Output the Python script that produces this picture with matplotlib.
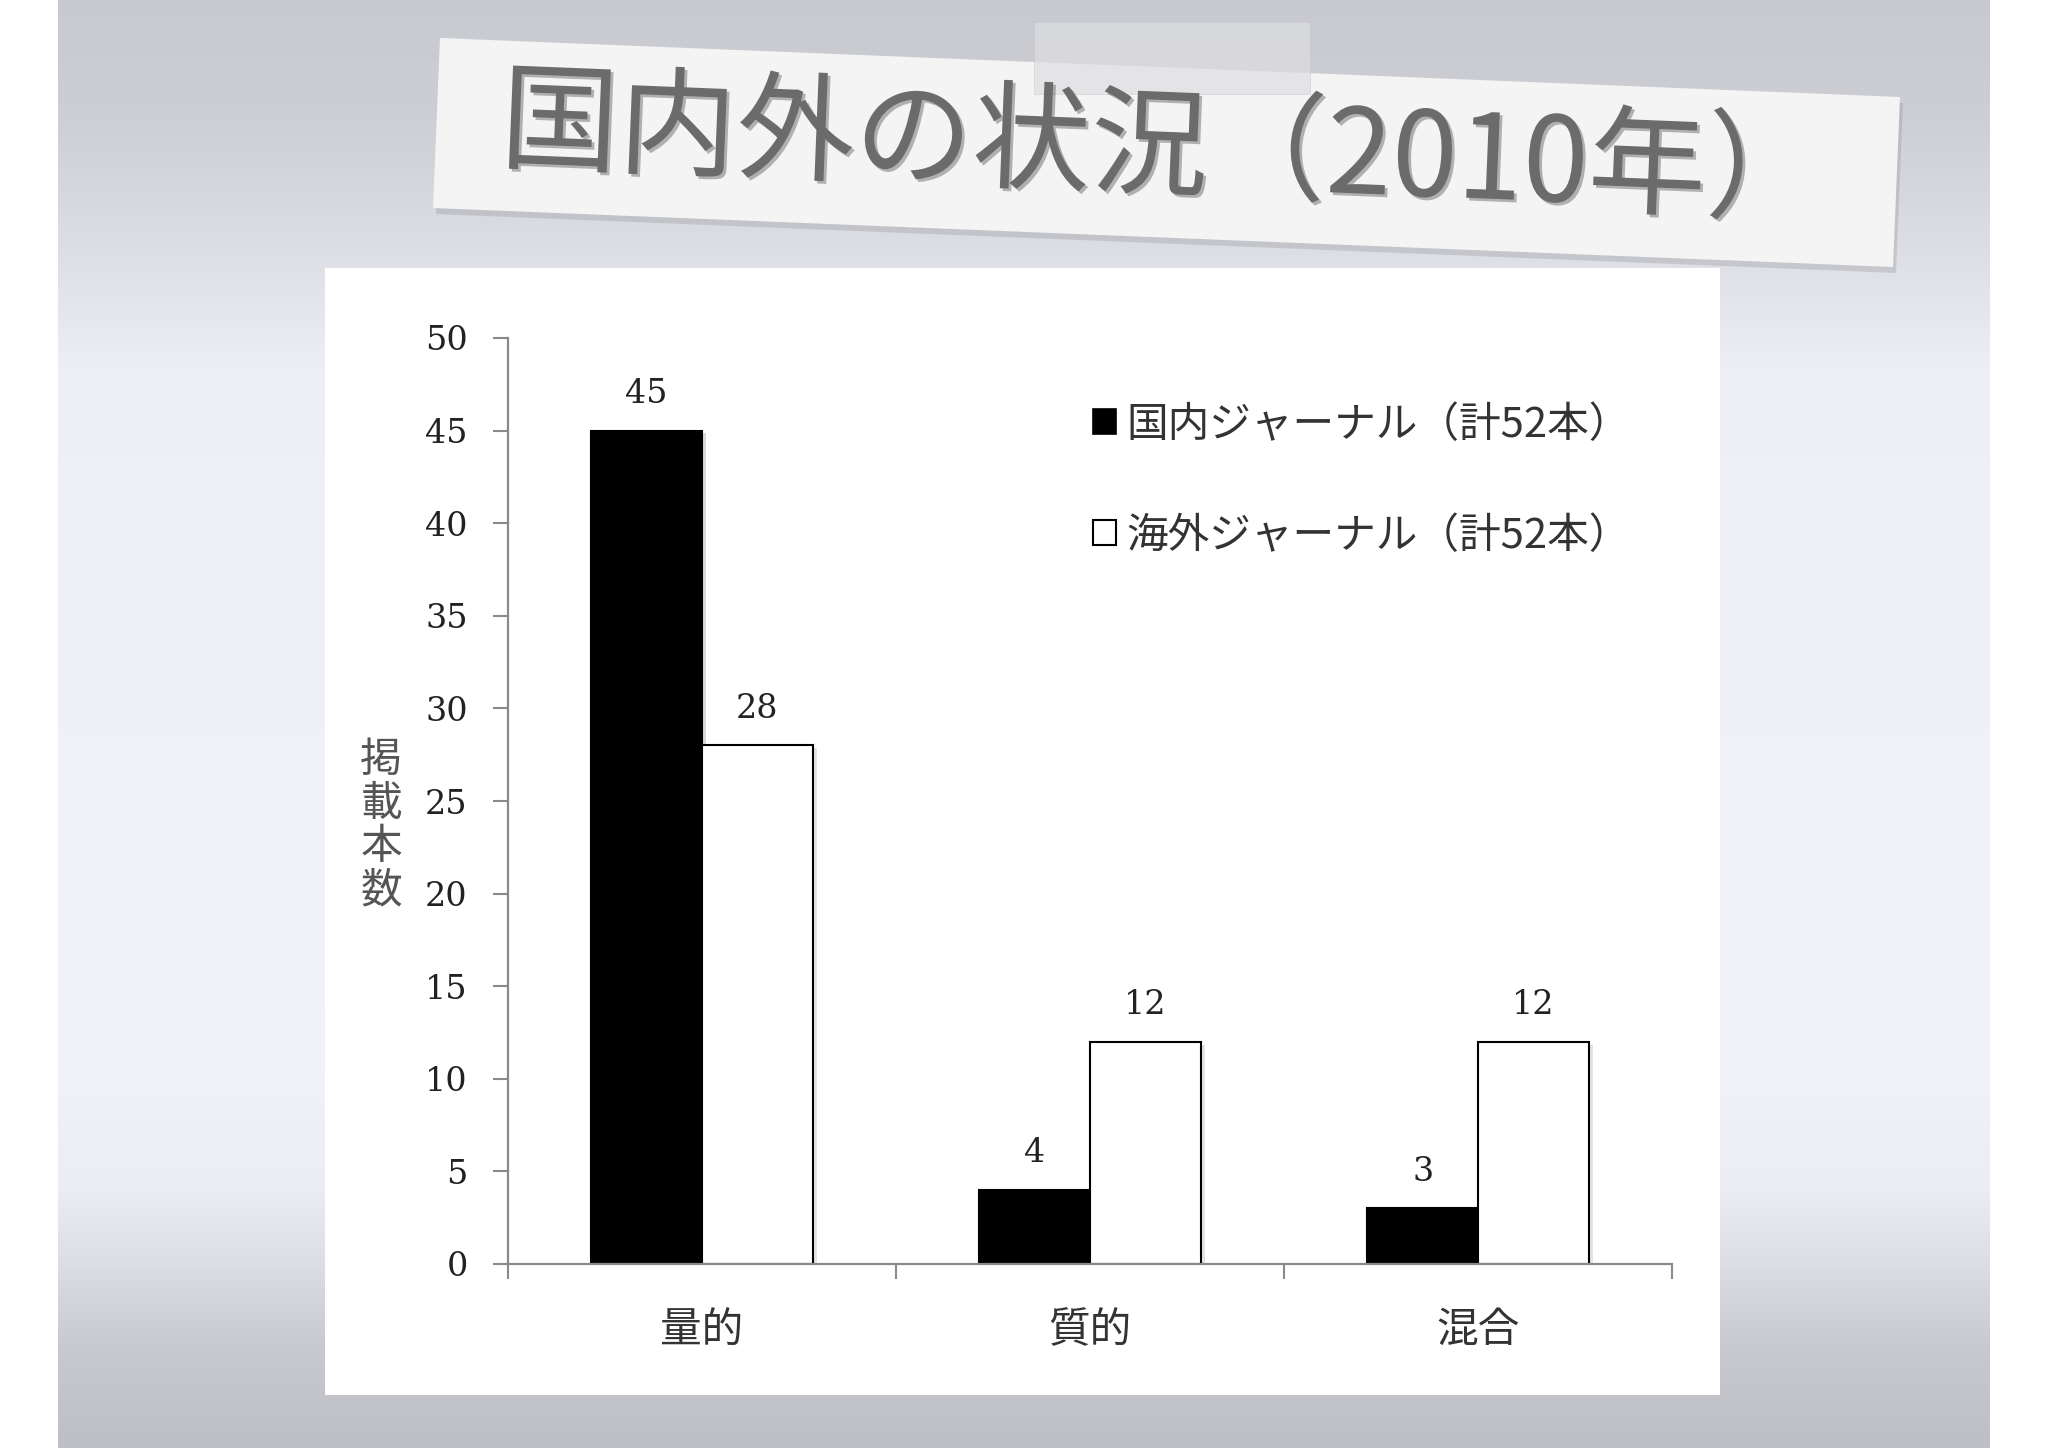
import numpy as np
import matplotlib
matplotlib.use('Agg')
import matplotlib.pyplot as plt
from matplotlib.patches import Polygon, Rectangle, Patch
import matplotlib.patheffects as pe

# data
categories = ['量的', '質的', '混合']
domestic = [45, 4, 3]
overseas = [28, 12, 12]
series_labels = ['国内ジャーナル（計52本）', '海外ジャーナル（計52本）']
y_ticks = [0, 5, 10, 15, 20, 25, 30, 35, 40, 45, 50]
ylabel = '掲載本数'
title = '国内外の状況（2010年）'

cjk = ['Noto Sans CJK JP', 'DejaVu Sans']
num_font = 'DejaVu Serif'

W, H = 2048, 1448
fig = plt.figure(figsize=(W / 100, H / 100), dpi=100)
fig.patch.set_facecolor('white')

# slide background in pixel coords
bg = fig.add_axes([0, 0, 1, 1], zorder=0)
stops_y = [0.0, 0.08, 0.17, 0.26, 0.74, 0.82, 0.88, 0.93, 1.0]
stops_v = [0.79, 0.81, 0.87, 0.94, 0.95, 0.93, 0.86, 0.79, 0.75]
v = np.interp(np.linspace(0, 1, H), stops_y, stops_v)
img = np.clip(np.stack([v - 0.005, v, v + 0.02], axis=-1), 0, 1)[:, None, :]
bg.imshow(img, extent=[58, 1990, H, 0], aspect='auto', interpolation='bilinear', zorder=0)
bg.set_xlim(0, W)
bg.set_ylim(H, 0)
bg.axis('off')

# white chart panel
bg.add_patch(Rectangle((325, 268), 1395, 1127, fc='white', ec='none', zorder=1))

# title strip with shadow and tape
strip = np.array([[440, 38], [1900, 97], [1893, 267], [433, 208]])
bg.add_patch(Polygon(strip + [3, 6], closed=True, fc='#8e8f95', ec='none', alpha=0.3, zorder=2))
bg.add_patch(Polygon(strip, closed=True, fc='#f4f4f5', ec='none', zorder=3))
bg.add_patch(Rectangle((1034, 22), 276, 72, fc='#dedee1', ec='#c8c8cc', lw=0.5, alpha=0.7, zorder=4))

bg.text(1162, 152, title, rotation=-2.3, rotation_mode='anchor', ha='center', va='center',
        fontsize=85, family=cjk, color='#6b6b6b', zorder=5,
        path_effects=[pe.SimplePatchShadow(offset=(2, -2), shadow_rgbFace='#333333', alpha=0.35),
                      pe.Normal()])

# chart
ax = fig.add_axes([508 / W, 1 - 1264 / H, 1164 / W, 926 / H], zorder=2)
ax.patch.set_alpha(0)

x = np.arange(len(categories))
w = 0.285
shadow = [pe.SimplePatchShadow(offset=(3, -2), alpha=0.15), pe.Normal()]
ax.bar(x - w / 2, domestic, w, color='black', edgecolor='black', lw=1.5, path_effects=shadow)
ax.bar(x + w / 2, overseas, w, color='white', edgecolor='black', lw=1.5, path_effects=shadow)

for xs, vals in [(x - w / 2, domestic), (x + w / 2, overseas)]:
    for xi, val in zip(xs, vals):
        ax.annotate(str(val), (xi, val), xytext=(0, 20), textcoords='offset points',
                    ha='center', va='baseline', family=num_font, fontsize=24, color='#222222')

ax.set_xlim(-0.5, 2.5)
ax.set_ylim(0, 50)
for s in ['top', 'right']:
    ax.spines[s].set_visible(False)
for s in ['left', 'bottom']:
    ax.spines[s].set_color('#8a8a8a')
    ax.spines[s].set_linewidth(1.6)

ax.set_yticks(y_ticks)
ax.set_yticklabels([str(t) for t in y_ticks], family=num_font, fontsize=24, color='#222222')
ax.tick_params(axis='y', length=11, width=1.5, color='#8a8a8a', pad=18, direction='out')

ax.set_xticks([-0.5, 0.5, 1.5, 2.5])
ax.set_xticklabels([])
ax.set_xticks(x, minor=True)
ax.set_xticklabels(categories, minor=True, family=cjk, fontsize=30, color='#333333')
ax.tick_params(axis='x', which='major', length=11, width=1.5, color='#8a8a8a', direction='out')
ax.tick_params(axis='x', which='minor', length=0, pad=33)

ax.text(-0.109, 0.473, '\n'.join(ylabel), transform=ax.transAxes, ha='center', va='center',
        family=cjk, fontsize=30, linespacing=1.08, color='#555555')

handles = [Patch(fc='black', ec='black', lw=1.2), Patch(fc='white', ec='black', lw=1.5)]
ax.legend(handles, series_labels, loc='upper left', bbox_to_anchor=(0.503, 0.928), frameon=False,
          prop={'family': cjk, 'size': 30}, labelcolor='#333333',
          handlelength=0.55, handleheight=0.55, handletextpad=0.25,
          labelspacing=1.68, borderpad=0, borderaxespad=0)

fig.savefig('out.png', dpi=100)
